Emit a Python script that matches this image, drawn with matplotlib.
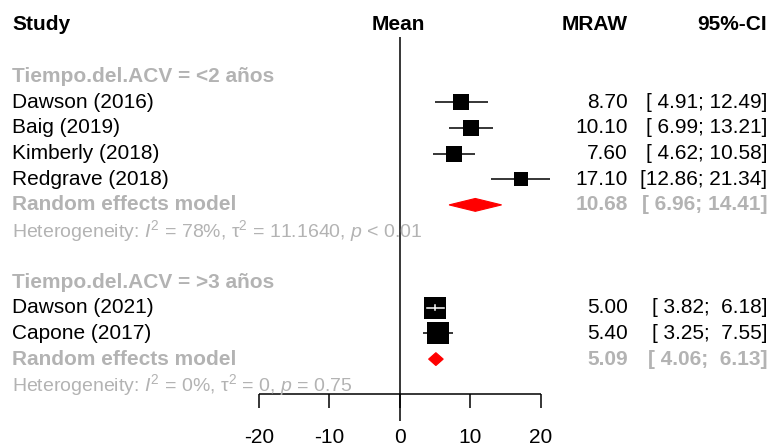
import matplotlib
matplotlib.use("Agg")
import matplotlib.pyplot as plt
from matplotlib.patches import Polygon

plt.rcParams["font.family"] = ["Liberation Sans", "DejaVu Sans"]
plt.rcParams["mathtext.fontset"] = "custom"
plt.rcParams["mathtext.rm"] = "Liberation Sans"
plt.rcParams["mathtext.it"] = "Liberation Sans:italic"

# data
group_labels = ["Tiempo.del.ACV = <2 años", "Tiempo.del.ACV = >3 años"]

studies_g1 = ["Dawson (2016)", "Baig (2019)", "Kimberly (2018)", "Redgrave (2018)"]
mean_g1 = [8.70, 10.10, 7.60, 17.10]
lower_g1 = [4.91, 6.99, 4.62, 12.86]
upper_g1 = [12.49, 13.21, 10.58, 21.34]
pooled_g1 = [10.68, 6.96, 14.41]
het_g1 = "Heterogeneity: $I^2$ = 78%, τ$^2$ = 11.1640, $p$ < 0.01"

studies_g2 = ["Dawson (2021)", "Capone (2017)"]
mean_g2 = [5.00, 5.40]
lower_g2 = [3.82, 3.25]
upper_g2 = [6.18, 7.55]
pooled_g2 = [5.09, 4.06, 6.13]
het_g2 = "Heterogeneity: $I^2$ = 0%, τ$^2$ = 0, $p$ = 0.75"

tick_vals = [-20, -10, 0, 10, 20]

# style
box_g1 = [16, 16, 16, 14]
box_g2 = [22, 22]
GRAY = "#b3b3b3"
FS = 15
FS_HET = 14

W, H = 770, 446
fig = plt.figure(figsize=(W / 100, H / 100), dpi=100)
ax = fig.add_axes([0, 0, 1, 1])
ax.axis("off")

# x: -20 at px 259, 20 at px 541 ; y: row r at px 25 + 25.7 r
ppu = (541 - 259) / 40.0
ax.set_xlim(-20 - 259 / ppu, 20 + (W - 541) / ppu)
ax.set_ylim((H - 25) / 25.7, -25 / 25.7)

tr = ax.get_yaxis_transform()
X_STUDY = 12 / W
X_MEAN = 398 / W
X_MRAW = 628 / W
X_CI = 767 / W


def ci_text(lo, hi):
    return "[{:>5}; {:>5}]".format("%.2f" % lo, "%.2f" % hi)


# header
ax.text(X_STUDY, 0, "Study", transform=tr, fontsize=FS, fontweight="bold", va="center", ha="left")
ax.text(X_MEAN, 0, "Mean", transform=tr, fontsize=FS, fontweight="bold", va="center", ha="center")
ax.text(X_MRAW, 0, "MRAW", transform=tr, fontsize=FS, fontweight="bold", va="center", ha="right")
ax.text(X_CI, 0, "95%-CI", transform=tr, fontsize=FS, fontweight="bold", va="center", ha="right")

groups = [
    (group_labels[0], studies_g1, mean_g1, lower_g1, upper_g1, pooled_g1, het_g1, box_g1),
    (group_labels[1], studies_g2, mean_g2, lower_g2, upper_g2, pooled_g2, het_g2, box_g2),
]

row = 2
for label, names, means, los, his, pooled, het, boxes in groups:
    ax.text(X_STUDY, row, label, transform=tr, fontsize=FS, fontweight="bold",
            color=GRAY, va="center", ha="left")
    row += 1
    for name, m, lo, hi, bpx in zip(names, means, los, his, boxes):
        ax.text(X_STUDY, row, name, transform=tr, fontsize=FS, va="center", ha="left")
        ax.plot([lo, hi], [row, row], color="black", lw=1.1, solid_capstyle="butt", zorder=2)
        ax.plot(m, row, marker="s", ms=bpx * 0.72, color="black", mew=0, zorder=3)
        if (hi - lo) * ppu < bpx:
            ax.plot([lo, hi], [row, row], color="white", lw=1.1, zorder=4)
            ax.plot([m, m], [row - 0.1, row + 0.1], color="white", lw=1.1, zorder=4)
        ax.text(X_MRAW, row, "%.2f" % m, transform=tr, fontsize=FS, va="center", ha="right")
        ax.text(X_CI, row, ci_text(lo, hi), transform=tr, fontsize=FS, va="center", ha="right")
        row += 1
    est, lo, hi = pooled
    ax.text(X_STUDY, row, "Random effects model", transform=tr, fontsize=FS,
            fontweight="bold", color=GRAY, va="center", ha="left")
    dia = Polygon([[lo, row], [est, row - 0.25], [hi, row], [est, row + 0.25]],
                  closed=True, facecolor="red", edgecolor="red", lw=0.8, zorder=3)
    ax.add_patch(dia)
    ax.text(X_MRAW, row, "%.2f" % est, transform=tr, fontsize=FS, fontweight="bold",
            color=GRAY, va="center", ha="right")
    ax.text(X_CI, row, ci_text(lo, hi), transform=tr, fontsize=FS, fontweight="bold",
            color=GRAY, va="center", ha="right")
    row += 1
    ax.text(X_STUDY, row, het, transform=tr, fontsize=FS_HET, color=GRAY,
            va="center", ha="left")
    row += 2

# reference line and x axis
axis_y = 14.35
ax.vlines(0, 0.47, 15.4, color="black", lw=1.1, zorder=1)
ax.hlines(axis_y, tick_vals[0], tick_vals[-1], color="black", lw=1.1)
ax.vlines(tick_vals, axis_y, axis_y + 0.55, color="black", lw=1.1)
for t in tick_vals:
    ax.text(t, 16.05, str(t), fontsize=FS, ha="center", va="center")

fig.savefig("out.png", dpi=100)
